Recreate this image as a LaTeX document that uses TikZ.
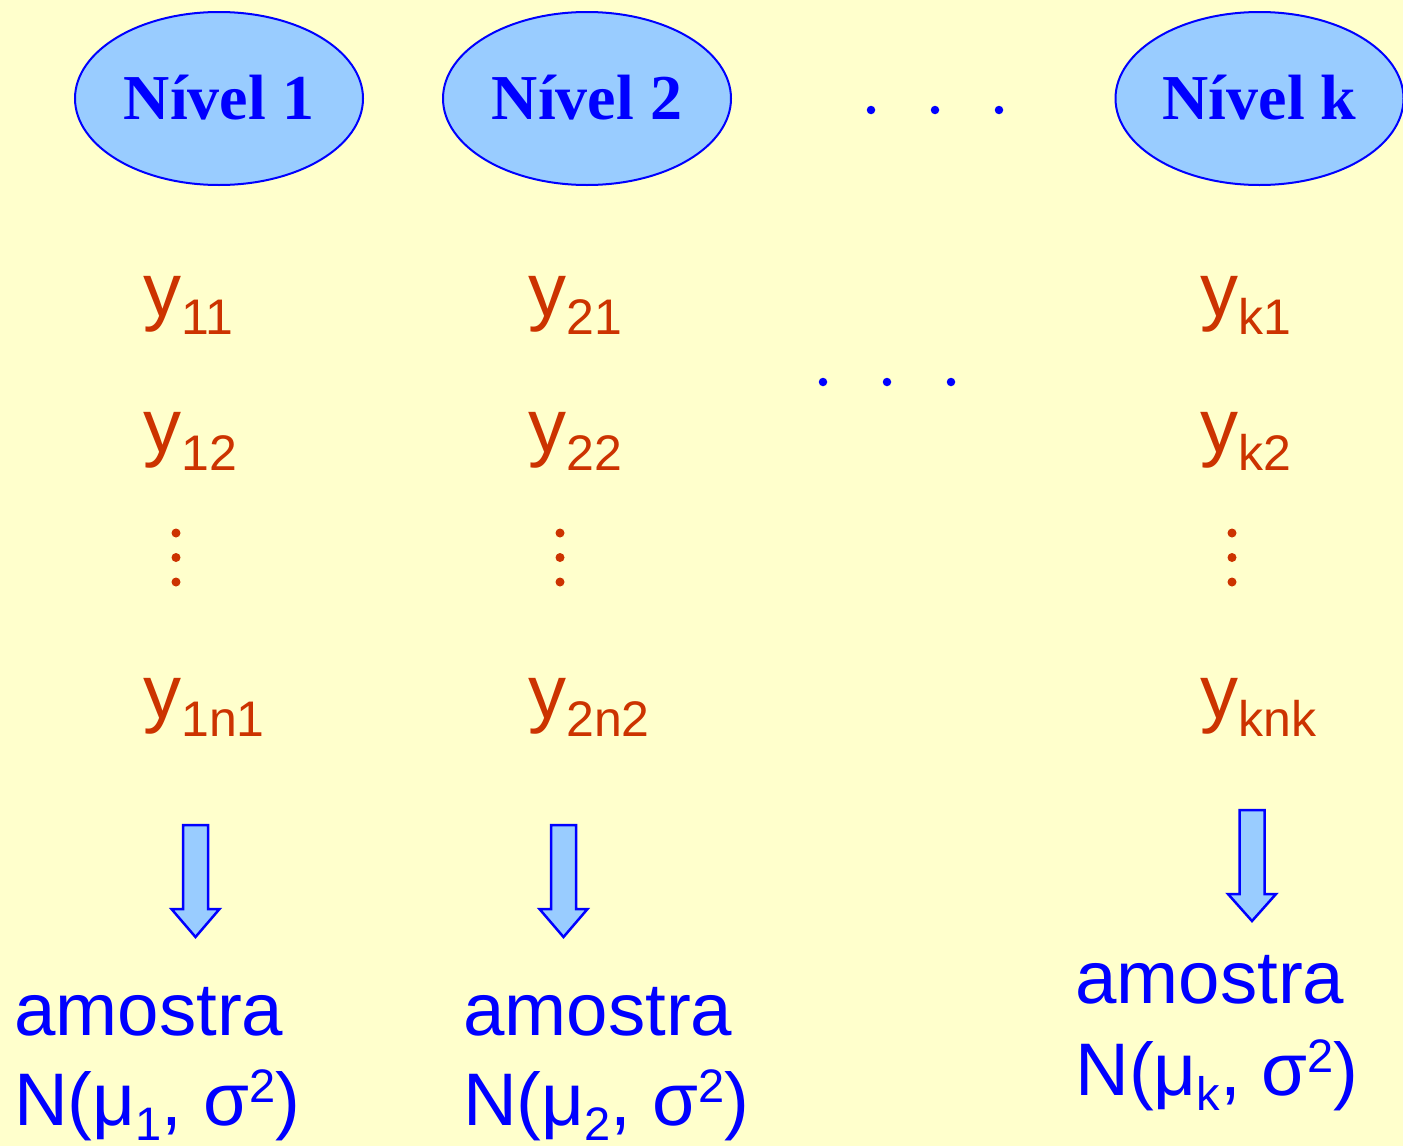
\documentclass[tikz,border=0pt]{standalone}
\usepackage{fontspec}
\setmainfont{Liberation Serif}
\newfontfamily\arialf{Liberation Sans}
\usetikzlibrary{shapes.geometric}
\definecolor{bgyellow}{HTML}{FFFFCC}
\definecolor{lightblue}{HTML}{99CCFF}
\definecolor{pureblue}{HTML}{0000FF}
\definecolor{rust}{HTML}{CC3300}
\newcommand\ysubx[1]{\raisebox{-18pt}{\fontsize{50}{50}\selectfont #1}}
\newcommand\nsubx[1]{\raisebox{-15pt}{\fontsize{47}{47}\selectfont #1}}
\newcommand\nsupx[1]{\raisebox{23pt}{\fontsize{47}{47}\selectfont #1}}
\tikzset{
  level/.style={ellipse, draw=pureblue, line width=2pt, fill=lightblue,
    minimum width=288pt, minimum height=173pt, inner sep=0pt,
    text=pureblue, font=\fontsize{64}{64}\selectfont\bfseries,
    text height=42pt, text depth=0pt},
  ylab/.style={anchor=base west, inner sep=0pt, text=rust,
    font=\arialf\fontsize{76}{76}\selectfont},
  samp/.style={anchor=base west, inner sep=0pt, text=pureblue,
    font=\arialf\fontsize{74.5}{74.5}\selectfont},
  bdot/.style={circle, fill=pureblue, inner sep=0pt, minimum size=8.5pt},
  rdot/.style={circle, fill=rust, inner sep=0pt, minimum size=9pt},
  arrowbox/.style={fill=lightblue, draw=pureblue, line width=2.5pt, line join=miter}
}
\begin{document}
\begin{tikzpicture}[x=1pt,y=-1pt]
\path[use as bounding box, fill=bgyellow] (0,0) rectangle (1403,1146);

% level ellipses
\node[level] (lv1) at (219,98.5) {Nível 1};
\node[level] (lv2) at (587,98.5) {Nível 2};
\node[level] (lvk) at (1259.5,98.5) {Nível k};

% dots between levels
\node[bdot] (td1) at (871,110) {};
\node[bdot] (td2) at (935,110) {};
\node[bdot] (td3) at (999,110) {};
\node[bdot] (md1) at (823,382) {};
\node[bdot] (md2) at (887,382) {};
\node[bdot] (md3) at (951,382) {};

% observations
\node[ylab] (y11) at (143,316) {y\ysubx{11}};
\node[ylab] (y12) at (143,452) {y\ysubx{12}};
\node[ylab] (y1n) at (143,718) {y\ysubx{1n1}};
\node[ylab] (y21) at (528,316) {y\ysubx{21}};
\node[ylab] (y22) at (528,452) {y\ysubx{22}};
\node[ylab] (y2n) at (528,718) {y\ysubx{2n2}};
\node[ylab] (yk1) at (1200,316) {y\ysubx{k1}};
\node[ylab] (yk2) at (1200,452) {y\ysubx{k2}};
\node[ylab] (ykn) at (1200,718) {y\ysubx{knk}};

% vertical ellipses
\foreach \cx/\nm in {176/a,560/b,1232/c}{
  \node[rdot] (vd\nm1) at (\cx,533) {};
  \node[rdot] (vd\nm2) at (\cx,557.5) {};
  \node[rdot] (vd\nm3) at (\cx,582) {};
}

% block arrows
\foreach \cx/\top/\sh/\tip in {195.5/825/909/937, 563.5/825/909/937, 1252/810/894/921}{
  \draw[arrowbox] (\cx-12.5,\top) -- (\cx+12.5,\top) -- (\cx+12.5,\sh) -- (\cx+24,\sh)
    -- (\cx,\tip) -- (\cx-24,\sh) -- (\cx-12.5,\sh) -- cycle;
}

% samples
\node[samp] (am1) at (14,1035) {amostra};
\node[samp] (nd1) at (14,1125) {N(μ\nsubx{1}, σ\nsupx{2})};
\node[samp] (am2) at (463,1035) {amostra};
\node[samp] (nd2) at (463,1125) {N(μ\nsubx{2}, σ\nsupx{2})};
\node[samp] (amk) at (1075,1003) {amostra};
\node[samp] (ndk) at (1075,1095) {N(μ\nsubx{k}, σ\nsupx{2})};
\end{tikzpicture}
\end{document}
